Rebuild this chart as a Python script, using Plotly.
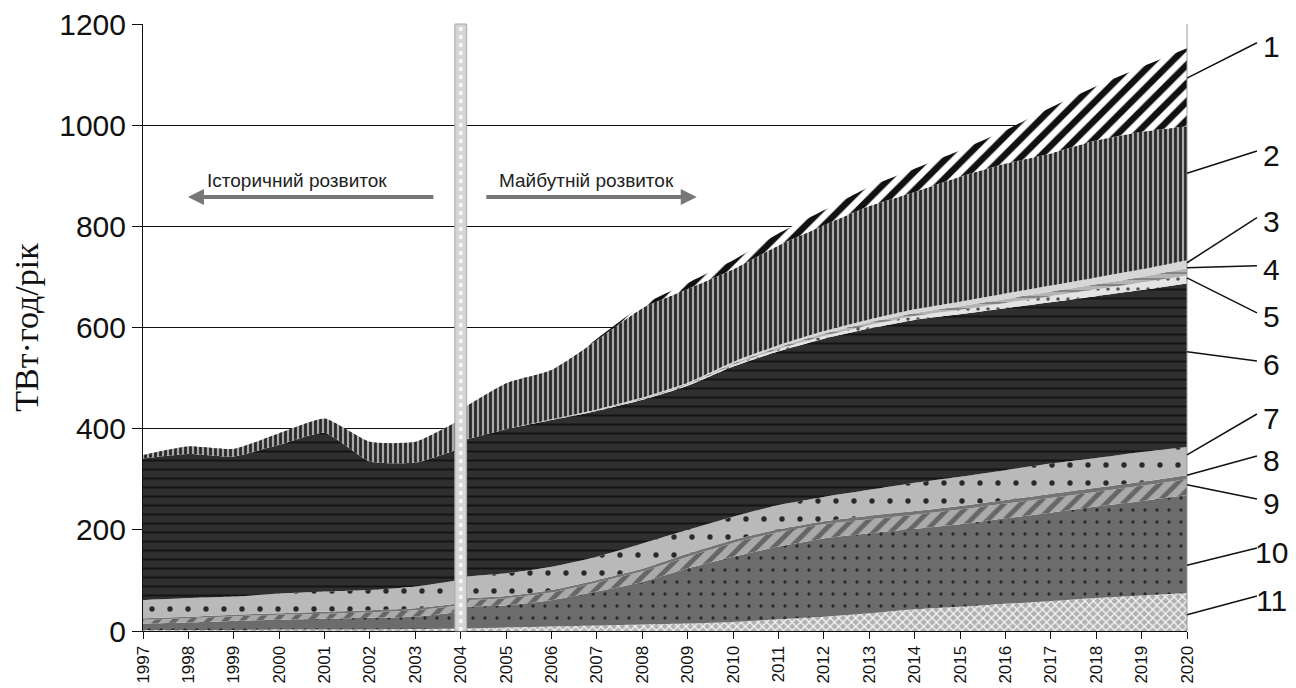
import plotly.graph_objects as go

# Years: historical segment ends at the 2004 divider, forecast starts there
hist_years = [1997, 1998, 1999, 2000, 2001, 2002, 2003, 2004]
fut_years = [2004, 2005, 2006, 2007, 2008, 2009, 2010, 2011, 2012,
             2013, 2014, 2015, 2016, 2017, 2018, 2019, 2020]

# Series values, TWh/year (layer 11 is the bottom of the stack, layer 1 the top)
hist_11 = [2, 2, 2, 3, 3, 3, 4, 5]
hist_10 = [13, 15, 18, 19, 21, 23, 24, 33]
hist_9 = [7, 8, 9, 10, 10, 11, 13, 13]
hist_8 = [3, 3, 3, 3, 4, 4, 4, 4]
hist_7 = [36, 37, 36, 39, 40, 40, 43, 46]
hist_6 = [280, 285, 277, 294, 314, 254, 245, 260]
hist_5 = [0, 0, 0, 0, 0, 0, 0, 0]
hist_4 = [0, 0, 0, 0, 0, 0, 0, 0]
hist_3 = [0, 0, 0, 0, 0, 0, 0, 0]
hist_2 = [7, 15, 15, 23, 28, 39, 41, 57]
hist_1 = [0, 0, 0, 0, 0, 0, 0, 0]

fut_11 = [5, 7, 9, 11, 13, 15, 18, 23, 28, 35, 43, 48, 54, 59, 65, 70, 75]
fut_10 = [43, 44, 52, 67, 84, 109, 129, 144, 155, 158, 159, 163, 169, 175, 181, 187, 194]
fut_9 = [12, 14, 15, 18, 21, 23, 27, 28, 28, 28, 28, 29, 29, 29, 29, 30, 31]
fut_8 = [4, 4, 5, 5, 5, 6, 6, 6, 6, 7, 7, 7, 7, 8, 8, 8, 8]
fut_7 = [43, 45, 46, 46, 50, 47, 46, 48, 48, 51, 56, 58, 59, 60, 59, 59, 56]
fut_6 = [269, 285, 290, 288, 284, 285, 297, 304, 313, 319, 322, 321, 320, 319, 320, 320, 323]
fut_5 = [0, 0, 0.5, 1, 1.5, 2, 3, 4, 5, 6.5, 7.5, 9, 10.5, 12, 13.5, 15, 16]
fut_4 = [0, 0, 0.5, 1, 1.5, 2, 3, 4, 5, 5.5, 6, 7, 8, 9, 10, 11, 14]
fut_3 = [0, 0, 0.5, 1, 1.5, 2, 3, 4, 5, 6, 7.5, 9, 10.5, 12, 13.5, 15, 16]
fut_2 = [62, 91, 97.5, 137, 176.5, 185, 183, 197, 209, 224, 232, 247, 257, 261, 271, 272, 265]
fut_1 = [0, 0, 0, 3, 6, 12, 18, 24, 30, 38, 46, 52, 66, 91, 107, 128, 154]

y_ticks = [0, 200, 400, 600, 800, 1000, 1200]
layer_names = ["1", "2", "3", "4", "5", "6", "7", "8", "9", "10", "11"]
# Where each leader line touches the 2020 edge, and where its number sits (TWh units)
leader_start = [1093, 905, 728, 718, 698, 552, 348, 308, 289, 130, 32]
label_level = [1155, 941, 809, 714, 621, 526, 421, 338, 253, 156, 61]

hist = {"1": hist_1, "2": hist_2, "3": hist_3, "4": hist_4, "5": hist_5, "6": hist_6,
        "7": hist_7, "8": hist_8, "9": hist_9, "10": hist_10, "11": hist_11}
fut = {"1": fut_1, "2": fut_2, "3": fut_3, "4": fut_4, "5": fut_5, "6": fut_6,
       "7": fut_7, "8": fut_8, "9": fut_9, "10": fut_10, "11": fut_11}


def pat(shape, fg, bg, size, solidity):
    return dict(fillcolor=bg, fillpattern=dict(shape=shape, fgcolor=fg, bgcolor=bg, size=size,
                                               solidity=solidity, fgopacity=1, fillmode="replace"))


# Grayscale fill textures for each layer
styles = {
    "1": pat("/", "#111111", "#ffffff", 13, 0.5),
    "2": pat("|", "#262626", "#a8a8a8", 5, 0.55),
    "3": dict(fillcolor="#d6d6d6"),
    "4": pat("-", "#808080", "#b4b4b4", 6, 0.3),
    "5": pat(".", "#555555", "#e4e4e4", 10, 0.1),
    "6": pat("-", "#141414", "#2f2f2f", 9, 0.22),
    "7": pat(".", "#2a2a2a", "#b9b9b9", 18, 0.07),
    "8": dict(fillcolor="#747474"),
    "9": pat("/", "#666666", "#aaaaaa", 12, 0.4),
    "10": pat(".", "#2a2a2a", "#6c6c6c", 12, 0.06),
    "11": pat("x", "#f4f4f4", "#b0b0b0", 6, 0.4),
}

fig = go.Figure()
for group, years, data in (("hist", hist_years, hist), ("fut", fut_years, fut)):
    for name in reversed(layer_names):
        fig.add_trace(go.Scatter(
            x=years, y=data[name], stackgroup=group, mode="lines",
            line=dict(width=0, shape="spline", smoothing=0.5),
            showlegend=False, hoverinfo="skip", **styles[name]))

# Divider band at 2004 between history and forecast
fig.add_shape(type="rect", xref="x", yref="paper", x0=2003.87, x1=2004.13, y0=0, y1=1.0,
              fillcolor="#d4d4d4", line=dict(color="#a8a8a8", width=1), layer="above")
fig.add_shape(type="line", xref="x", yref="paper", x0=2004, x1=2004, y0=0, y1=1.0,
              line=dict(color="#f4f4f4", width=4, dash="dot"), layer="above")
# Right frame edge
fig.add_shape(type="line", xref="paper", yref="paper", x0=1, x1=1, y0=0, y1=1,
              line=dict(color="#9a9a9a", width=1), layer="above")

# Direction arrows with captions
fig.add_annotation(x=1997.99, y=858, ax=2003.43, ay=858, xref="x", yref="y", axref="x", ayref="y",
                   text="", showarrow=True, arrowhead=2, arrowsize=0.8, arrowwidth=4, arrowcolor="#777777")
fig.add_annotation(x=2009.2, y=858, ax=2004.53, ay=858, xref="x", yref="y", axref="x", ayref="y",
                   text="", showarrow=True, arrowhead=2, arrowsize=0.8, arrowwidth=4, arrowcolor="#777777")
fig.add_annotation(x=2000.39, y=890, xref="x", yref="y", text="Історичний розвиток", showarrow=False,
                   font=dict(family="Liberation Sans, Arial", size=19, color="#222222"))
fig.add_annotation(x=2006.78, y=890, xref="x", yref="y", text="Майбутній розвиток", showarrow=False,
                   font=dict(family="Liberation Sans, Arial", size=19, color="#222222"))

# Layer numbers with leader lines at the right edge
x_line_end = 1.067
x_label = 1.0805
for name, y0, y1 in zip(layer_names, leader_start, label_level):
    fig.add_shape(type="line", xref="paper", yref="paper", x0=1.0, x1=x_line_end,
                  y0=y0 / 1200, y1=(y1 + 8) / 1200, line=dict(color="#111111", width=1.5))
    fig.add_annotation(xref="paper", yref="paper", x=x_label, y=y1 / 1200, text=name,
                       showarrow=False, xanchor="center", yanchor="middle",
                       font=dict(family="Liberation Sans, Arial", size=30, color="#111111"))

fig.update_layout(
    width=1296, height=688,
    margin=dict(l=143, r=109, t=24, b=57, autoexpand=False),
    paper_bgcolor="white", plot_bgcolor="white",
    xaxis=dict(range=[1997, 2020], tickmode="array", tickvals=list(range(1997, 2021)),
               ticktext=[str(y) for y in range(1997, 2021)], tickangle=-90,
               ticks="outside", ticklen=7, tickcolor="#111111", showgrid=False,
               showline=True, linecolor="#111111", linewidth=1, zeroline=False, automargin=False,
               tickfont=dict(family="Liberation Sans, Arial", size=17, color="#111111")),
    yaxis=dict(range=[0, 1200], tickmode="array", tickvals=y_ticks,
               ticks="outside", ticklen=10, tickcolor="#111111",
               showgrid=True, gridcolor="#111111", gridwidth=1, automargin=False,
               showline=True, linecolor="#111111", linewidth=1, zeroline=False,
               tickfont=dict(family="Liberation Sans, Arial", size=30, color="#111111"),
               title=dict(text="ТВт·год/рік", standoff=10,
                          font=dict(family="Liberation Serif, Times New Roman", size=34, color="#111111"))),
)

fig.write_html("out.html")
